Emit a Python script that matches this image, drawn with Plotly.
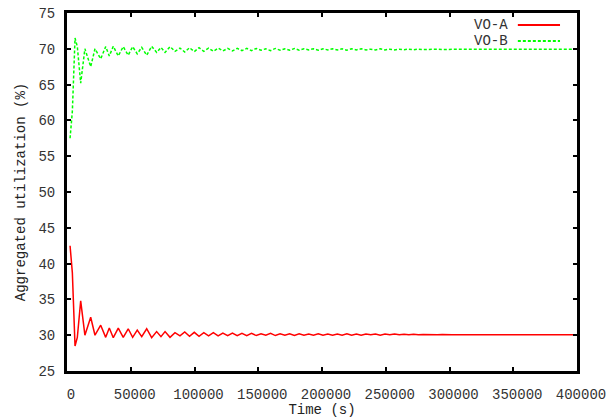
import plotly.graph_objects as go

# ---- data ----
TIME_HEAD = [2400, 4200, 6300, 8100, 10740, 14040, 18580, 21950, 26430, 30350,
             33180, 36300, 40200, 44100, 48000, 51500, 55100, 58600, 62500, 66400,
             70300, 73700, 76900, 80800, 84700, 88600]
TAIL_START = 88600
TAIL_STEP = 3740
TAIL_COUNT = 83
TIME = TIME_HEAD + [TAIL_START + TAIL_STEP * i for i in range(1, TAIL_COUNT + 1)]

VO_A = [42.5, 38.7, 28.5, 29.7, 34.8, 30.0, 32.5, 30.0, 31.4, 29.7,
        31.0, 29.65, 31.0, 29.7, 30.9, 29.7, 30.7, 29.8, 30.9, 29.65,
        30.5, 29.8, 30.5, 29.7, 30.35, 29.9,
        30.45, 29.85, 30.4, 29.85, 30.35, 29.9, 30.35, 29.9, 30.3, 29.95,
        30.3, 29.95, 30.25, 29.95, 30.25, 29.95, 30.2, 30.0, 30.25, 29.95,
        30.2, 30.0, 30.2, 29.95, 30.2, 30.0, 30.15, 30.0, 30.2, 30.0,
        30.15, 30.0, 30.15, 30.0, 30.2, 30.0, 30.15, 30.0, 30.15, 30.05,
        30.15, 30.0, 30.15, 30.05, 30.15, 30.05, 30.12, 30.05, 30.12, 30.05,
        30.1, 30.05, 30.1, 30.05, 30.1, 30.05, 30.08, 30.06, 30.08, 30.06,
        30.07, 30.06, 30.07, 30.06, 30.08, 30.06, 30.07, 30.07, 30.06, 30.08,
        30.06, 30.07, 30.06, 30.07, 30.07, 30.06, 30.07, 30.06, 30.07, 30.07,
        30.06, 30.07, 30.07]

VO_B = [57.5, 61.3, 71.5, 70.3, 65.2, 70.0, 67.5, 70.0, 68.6, 70.3,
        69.0, 70.35, 69.0, 70.3, 69.1, 70.3, 69.3, 70.2, 69.1, 70.35,
        69.5, 70.2, 69.5, 70.3, 69.65, 70.1,
        69.55, 70.15, 69.6, 70.15, 69.65, 70.1, 69.65, 70.1, 69.7, 70.05,
        69.7, 70.05, 69.75, 70.05, 69.75, 70.05, 69.8, 70.0, 69.75, 70.05,
        69.8, 70.0, 69.8, 70.05, 69.8, 70.0, 69.85, 70.0, 69.8, 70.0,
        69.85, 70.0, 69.85, 70.0, 69.8, 70.0, 69.85, 70.0, 69.85, 69.95,
        69.85, 70.0, 69.85, 69.95, 69.85, 69.95, 69.88, 69.95, 69.88, 69.95,
        69.9, 69.95, 69.9, 69.95, 69.9, 69.95, 69.92, 69.94, 69.92, 69.94,
        69.93, 69.94, 69.93, 69.94, 69.92, 69.94, 69.93, 69.93, 69.94, 69.92,
        69.94, 69.93, 69.94, 69.93, 69.93, 69.94, 69.93, 69.94, 69.93, 69.93,
        69.94, 69.93, 69.93]

X_TICKS = [0, 50000, 100000, 150000, 200000, 250000, 300000, 350000, 400000]
Y_TICKS = [25, 30, 35, 40, 45, 50, 55, 60, 65, 70, 75]
SERIES_NAMES = ["VO-A", "VO-B"]

FONT = "Liberation Mono, Courier New, monospace"

fig = go.Figure()
fig.add_trace(go.Scatter(x=TIME, y=VO_A, mode="lines", name=SERIES_NAMES[0],
                         line=dict(color="#ff0000", width=1.5)))
fig.add_trace(go.Scatter(x=TIME, y=VO_B, mode="lines", name=SERIES_NAMES[1],
                         line=dict(color="#00ff00", width=1.5, dash="3px,2px")))

axis_common = dict(showline=True, linecolor="black", linewidth=3, mirror="ticks",
                   ticks="inside", ticklen=4, tickwidth=2, tickcolor="black",
                   showgrid=False, zeroline=False,
                   tickfont=dict(family=FONT, size=14, color="#333"))

fig.update_xaxes(range=[0, 400000], tickvals=X_TICKS,
                 ticktext=[str(v) for v in X_TICKS],
                 ticklabelstandoff=8, ticklabelshift=4,
                 title=dict(text="Time (s)", font=dict(family=FONT, size=14, color="#222"),
                            standoff=8),
                 **axis_common)
fig.update_yaxes(range=[25, 75], tickvals=Y_TICKS,
                 ticktext=[str(v) for v in Y_TICKS],
                 ticklabelstandoff=6,
                 title=dict(text="Aggregated utilization (%)",
                            font=dict(family=FONT, size=14, color="#222"), standoff=10),
                 **axis_common)

# gnuplot-style key: text right-aligned, sample line to the right
key_rows = [(0.9665, SERIES_NAMES[0], "#ff0000", "solid"),
            (0.9218, SERIES_NAMES[1], "#00ff00", "3px,2px")]
for yk, name, col, dash in key_rows:
    fig.add_annotation(x=0.8686, y=yk, xref="paper", yref="paper", text=name,
                       showarrow=False, xanchor="right", yanchor="middle",
                       font=dict(family=FONT, size=14, color="#333"))
    fig.add_shape(type="line", xref="paper", yref="paper", x0=0.884, x1=0.9667,
                  y0=yk, y1=yk, line=dict(color=col, width=2, dash=dash))

fig.update_layout(width=610, height=418, showlegend=False,
                  margin=dict(l=67, r=33, t=13, b=47, autoexpand=False),
                  paper_bgcolor="white", plot_bgcolor="white")

fig.write_html("out.html")
